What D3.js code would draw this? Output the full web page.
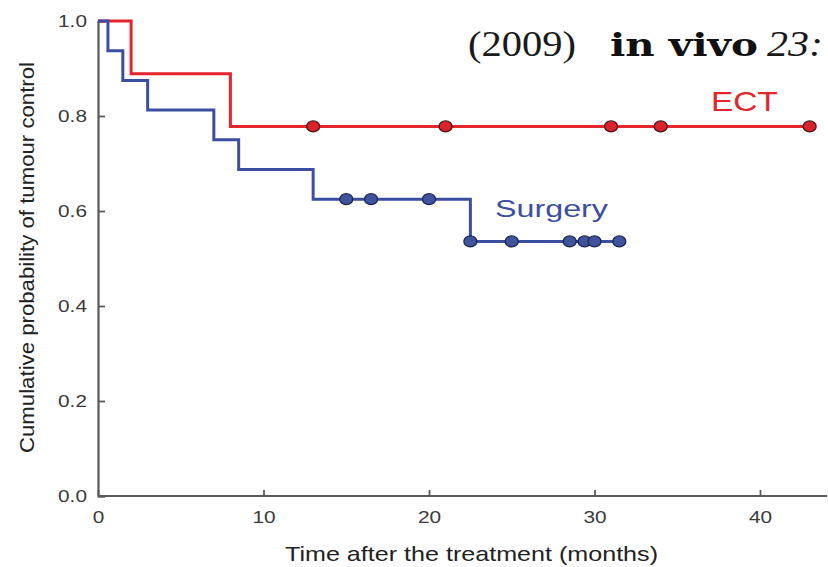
<!DOCTYPE html>
<meta charset="utf-8">
<script src="https://d3js.org/d3.v7.min.js"></script>
<style type="text/css">
  body { margin: 0; background: #fff; }
  text { font-family: "Liberation Sans", Arial, sans-serif; }
</style>
<body>
<svg width="828" height="567"></svg>
<script>
    // Kaplan-Meier steps [month, probability]
    let ectSteps = [[0, 1], [2, 0.889], [8, 0.778], [43, 0.778]],
        ectCensored = [13, 21, 31, 34, 43]

    let surgerySteps = [[0, 1], [0.6, 0.9375], [1.5, 0.875], [3, 0.8125], [7, 0.75],
                        [8.5, 0.6875], [13, 0.625], [22.5, 0.536], [31.5, 0.536]],
        surgeryCensored = [15, 16.5, 20, 22.5, 25, 28.5, 29.4, 30, 31.5]

    let xTicks = [0, 10, 20, 30, 40],
        yTicks = [0, 0.2, 0.4, 0.6, 0.8, 1.0]

    let svg = d3.select('svg')

    let x = d3.scaleLinear().domain([0, 40]).range([98, 760]),
        y = d3.scaleLinear().domain([0, 1]).range([496, 21])

    // level of a step curve at time t
    let levelAt = (steps, t) => {
        let v = steps[0][1]
        steps.forEach(s => { if (s[0] <= t) v = s[1] })
        return v
    }

    let axisColor = '#5a5a5a', stretch = 1.3

    // axes
    let xAxis = svg.append('g').attr('transform', `translate(0,${y(0)})`)
        .call(d3.axisBottom(x).tickValues(xTicks).tickSize(-6).tickPadding(16).tickFormat(d3.format('d')))
    xAxis.select('.domain').attr('d', `M${x(0)},0H827`)

    let yAxis = svg.append('g').attr('transform', `translate(${x(0)},0)`)
        .call(d3.axisLeft(y).tickValues(yTicks).tickSize(-7).tickPadding(8.5).tickFormat(d3.format('.1f')))

    ;[xAxis, yAxis].forEach(a => {
        a.select('.domain').attr('stroke', axisColor).attr('stroke-width', 2.2)
        a.selectAll('.tick line').attr('stroke', axisColor).attr('stroke-width', 1.8)
        a.selectAll('.tick text').attr('fill', '#3a3a3a').style('font-size', '16px')
            .style('font-family', '"Liberation Sans", Arial, sans-serif')
            .attr('transform', `scale(${stretch},1)`)
    })

    let line = d3.line().x(d => x(d[0])).y(d => y(d[1])).curve(d3.curveStepAfter)

    let series = [
        {steps: ectSteps, censored: ectCensored, stroke: '#e4252d', fill: '#d8222c', dark: '#4e1216'},
        {steps: surgerySteps, censored: surgeryCensored, stroke: '#3c4ea0', fill: '#40549c', dark: '#1c2556'}
    ]

    series.forEach(s => {
        svg.append('path').datum(s.steps)
            .attr('d', line)
            .attr('fill', 'none')
            .attr('stroke', s.stroke)
            .attr('stroke-width', 3)

        svg.selectAll(null).data(s.censored).enter().append('ellipse')
            .attr('cx', d => x(d))
            .attr('cy', d => y(levelAt(s.steps, d)))
            .attr('rx', 6.5).attr('ry', 5.5)
            .attr('fill', s.fill)
            .attr('stroke', s.dark)
            .attr('stroke-width', 1.3)
    })

    // series labels
    svg.append('text').attr('x', 711).attr('y', 111).text('ECT')
        .attr('textLength', 67).attr('lengthAdjust', 'spacingAndGlyphs')
        .attr('fill', '#e4252d').style('font-size', '28px')
    svg.append('text').attr('x', 495).attr('y', 217).text('Surgery')
        .attr('textLength', 113).attr('lengthAdjust', 'spacingAndGlyphs')
        .attr('fill', '#3c4ea0').style('font-size', '24px')

    // axis titles
    svg.append('text').attr('transform', 'translate(34,257.5) rotate(-90)')
        .attr('text-anchor', 'middle').text('Cumulative probability of tumour control')
        .attr('textLength', 391).attr('lengthAdjust', 'spacingAndGlyphs')
        .attr('fill', '#222').style('font-size', '21px')
    svg.append('text').attr('x', 285).attr('y', 561)
        .text('Time after the treatment (months)')
        .attr('textLength', 373).attr('lengthAdjust', 'spacingAndGlyphs')
        .attr('fill', '#222').style('font-size', '21px')

    // header fragment overlaid on the figure
    let serif = '"Liberation Serif", "Times New Roman", serif'
    svg.append('text').attr('x', 468).attr('y', 56).text('(2009)')
        .attr('textLength', 108).attr('lengthAdjust', 'spacingAndGlyphs')
        .style('font-family', serif).style('font-size', '35px').attr('fill', '#1a1a1a')
    svg.append('text').attr('x', 610).attr('y', 56).text('in vivo')
        .attr('textLength', 148).attr('lengthAdjust', 'spacingAndGlyphs')
        .style('font-family', '"DejaVu Serif", serif').style('font-weight', 'bold')
        .style('font-size', '31px').attr('fill', '#111')
    svg.append('text').attr('x', 767).attr('y', 56).text('23:')
        .attr('textLength', 56).attr('lengthAdjust', 'spacingAndGlyphs')
        .style('font-family', serif).style('font-style', 'italic')
        .style('font-size', '35px').attr('fill', '#1a1a1a')
</script>
</body>
